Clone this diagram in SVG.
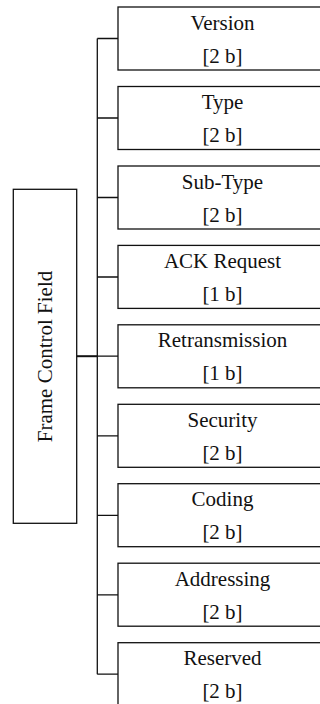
<svg xmlns="http://www.w3.org/2000/svg" width="320" height="704" viewBox="0 0 320 704">
<style>
.box{fill:#fff;stroke:#111;stroke-width:1.3}
.ln{fill:none;stroke:#111;stroke-width:1.3}
.t{font-size:21px;fill:#111;text-anchor:middle}
</style>
<rect width="320" height="704" fill="#fff"/>
<g id="connectors">
<path class="ln" d="M97.3,38.5 V674.2"/>
<path class="ln" d="M97.3,38.5 H118 M97.3,118 H118 M97.3,197.5 H118 M97.3,277 H118 M97.3,356.2 H118 M97.3,435.8 H118 M97.3,515.3 H118 M97.3,594.8 H118 M97.3,674.2 H118"/>
<path class="ln" d="M76.7,356.2 H97.3" style="stroke-width:2"/>
</g>
<g font-family="Liberation Serif, DejaVu Serif, serif">
<g id="root">
<rect class="box" x="13.3" y="189.3" width="63.4" height="334"/>
<text class="t" transform="translate(52.3,356.5) rotate(-90)" x="0" y="0">Frame Control Field</text>
</g>
<g id="version">
<rect class="box" x="118" y="7" width="210" height="63"/>
<text class="t" x="222.5" y="29.5">Version</text><text class="t" x="222.5" y="62.5">[2 b]</text>
</g>
<g id="type">
<rect class="box" x="118" y="86.5" width="210" height="63"/>
<text class="t" x="222.5" y="109">Type</text><text class="t" x="222.5" y="142">[2 b]</text>
</g>
<g id="subtype">
<rect class="box" x="118" y="166" width="210" height="63"/>
<text class="t" x="222.5" y="188.5">Sub-Type</text><text class="t" x="222.5" y="221.5">[2 b]</text>
</g>
<g id="ack">
<rect class="box" x="118" y="245.4" width="210" height="63"/>
<text class="t" x="222.5" y="268">ACK Request</text><text class="t" x="222.5" y="301">[1 b]</text>
</g>
<g id="retrans">
<rect class="box" x="118" y="324.8" width="210" height="63"/>
<text class="t" x="222.5" y="347.3">Retransmission</text><text class="t" x="222.5" y="380.3">[1 b]</text>
</g>
<g id="security">
<rect class="box" x="118" y="404.3" width="210" height="63"/>
<text class="t" x="222.5" y="426.8">Security</text><text class="t" x="222.5" y="459.8">[2 b]</text>
</g>
<g id="coding">
<rect class="box" x="118" y="483.7" width="210" height="63"/>
<text class="t" x="222.5" y="506.2">Coding</text><text class="t" x="222.5" y="539.2">[2 b]</text>
</g>
<g id="addressing">
<rect class="box" x="118" y="563.2" width="210" height="63"/>
<text class="t" x="222.5" y="585.7">Addressing</text><text class="t" x="222.5" y="618.7">[2 b]</text>
</g>
<g id="reserved">
<rect class="box" x="118" y="642.7" width="210" height="63"/>
<text class="t" x="222.5" y="665.2">Reserved</text><text class="t" x="222.5" y="698.2">[2 b]</text>
</g>
</g>
</svg>
